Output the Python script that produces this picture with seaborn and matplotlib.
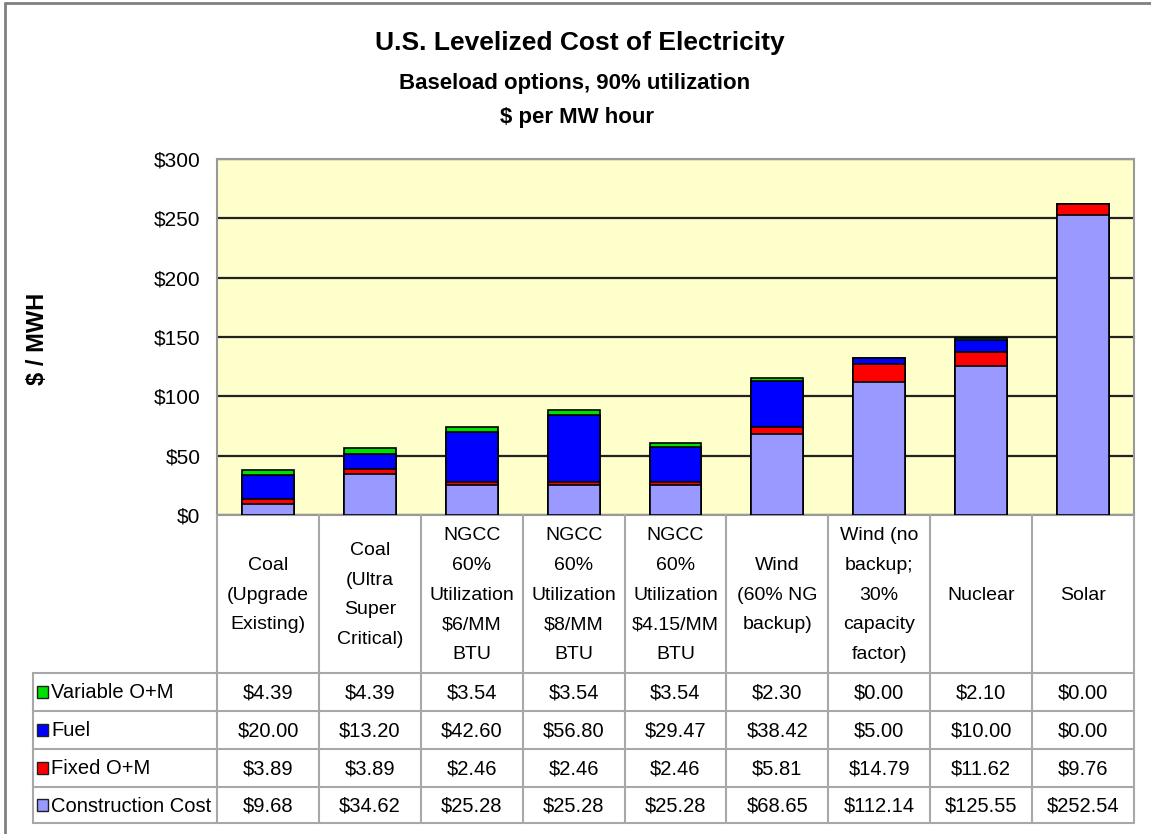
import numpy as np
import pandas as pd
import matplotlib
matplotlib.use("Agg")
import matplotlib.pyplot as plt
from matplotlib.lines import Line2D
from matplotlib.patches import Rectangle
import seaborn as sns

categories = ["Coal\n(Upgrade\nExisting)", "Coal\n(Ultra\nSuper\nCritical)",
              "NGCC\n60%\nUtilization\n$6/MM\nBTU", "NGCC\n60%\nUtilization\n$8/MM\nBTU",
              "NGCC\n60%\nUtilization\n$4.15/MM\nBTU", "Wind\n(60% NG\nbackup)",
              "Wind (no\nbackup;\n30%\ncapacity\nfactor)", "Nuclear", "Solar"]
construction = [9.68, 34.62, 25.28, 25.28, 25.28, 68.65, 112.14, 125.55, 252.54]
fixed_om = [3.89, 3.89, 2.46, 2.46, 2.46, 5.81, 14.79, 11.62, 9.76]
fuel = [20.00, 13.20, 42.60, 56.80, 29.47, 38.42, 5.00, 10.00, 0.00]
variable_om = [4.39, 4.39, 3.54, 3.54, 3.54, 2.30, 0.00, 2.10, 0.00]
series_names = ["Variable O+M", "Fuel", "Fixed O+M", "Construction Cost"]
y_ticks = [0, 50, 100, 150, 200, 250, 300]

colors = {"Variable O+M": "#00E000", "Fuel": "#0000FF",
          "Fixed O+M": "#FF0000", "Construction Cost": "#9999FF"}

sns.set_theme(style="white")
FONT = ["Liberation Sans", "DejaVu Sans"]
plt.rcParams["font.family"] = FONT
plt.rcParams["text.color"] = "black"
plt.rcParams["ytick.color"] = "black"
plt.rcParams["ytick.labelcolor"] = "black"

W, H = 1151, 834
fig = plt.figure(figsize=(W / 100, H / 100), dpi=100)

def fx(px):
    return px / W

def fy(py):
    return 1 - py / H

L, R, T, B = 217, 1134, 159, 515
ax = fig.add_axes([fx(L), fy(B), fx(R) - fx(L), fy(T) - fy(B)])
ax.set_facecolor("#FFFFCC")

df = pd.DataFrame({"cat": categories, "Construction Cost": construction,
                   "Fixed O+M": fixed_om, "Fuel": fuel, "Variable O+M": variable_om})
order_bottom_up = ["Construction Cost", "Fixed O+M", "Fuel", "Variable O+M"]
cum = df[order_bottom_up].cumsum(axis=1)

for s in reversed(order_bottom_up):
    sns.barplot(x=df["cat"], y=cum[s], color=colors[s], width=0.51,
                edgecolor="black", linewidth=1.2, saturation=1, ax=ax, zorder=3)

ax.set_ylim(0, 300)
ax.set_xlim(-0.5, len(categories) - 0.5)
ax.set_yticks(y_ticks)
ax.set_yticklabels([f"${v}" for v in y_ticks], fontsize=15, family=FONT, color="black")
ax.tick_params(axis="y", length=0, pad=12)
ax.set_xticks([])
ax.set_xlabel("")
ax.set_ylabel("")
ax.yaxis.grid(True, color="#222222", linewidth=1.6, zorder=1)
ax.set_axisbelow(True)
for sp in ax.spines.values():
    sp.set_color("#999999")
    sp.set_linewidth(1.5)

# y label
fig.text(fx(37), fy(339), "$ / MWH", rotation=90, ha="center", va="center",
         fontsize=17, fontweight="bold", family=FONT, color="black")

# titles
fig.text(fx(580), fy(43), "U.S. Levelized Cost of Electricity", ha="center", va="center",
         fontsize=19, fontweight="bold", family=FONT, color="black")
fig.text(fx(575), fy(83), "Baseload options, 90% utilization", ha="center", va="center",
         fontsize=16, fontweight="bold", family=FONT, color="black")
fig.text(fx(577), fy(118), "$ per MW hour", ha="center", va="center",
         fontsize=16, fontweight="bold", family=FONT, color="black")

# data table
tab = fig.add_axes([0, 0, 1, 1], zorder=5)
tab.set_xlim(0, W)
tab.set_ylim(H, 0)
tab.axis("off")
gc = "#A8A8A8"
colw = (R - L) / len(categories)
row_edges = [673, 711, 749, 787, 823]
TL = 33
for yv in row_edges:
    tab.add_line(Line2D([TL, R], [yv, yv], color=gc, lw=1.5))
tab.add_line(Line2D([TL, TL], [row_edges[0], row_edges[-1]], color=gc, lw=1.5))
for i in range(len(categories) + 1):
    xv = L + i * colw
    tab.add_line(Line2D([xv, xv], [B, row_edges[-1]], color=gc, lw=1.5))

for i, c in enumerate(categories):
    tab.text(L + (i + 0.5) * colw, (B + row_edges[0]) / 2 + 1, c, ha="center", va="center",
             fontsize=14, linespacing=1.97, family=FONT, color="black")

rows = {"Variable O+M": variable_om, "Fuel": fuel,
        "Fixed O+M": fixed_om, "Construction Cost": construction}
for r, name in enumerate(series_names):
    yc = (row_edges[r] + row_edges[r + 1]) / 2
    tab.add_patch(Rectangle((37, yc - 6), 11, 12, facecolor=colors[name],
                            edgecolor="#202020", lw=1))
    tab.text(51, yc + 1, name, ha="left", va="center", fontsize=14.5, family=FONT, color="black")
    for i, v in enumerate(rows[name]):
        tab.text(L + (i + 0.5) * colw, yc + 1, f"${v:.2f}", ha="center", va="center",
                 fontsize=14.5, family=FONT, color="black")

# figure border
tab.add_line(Line2D([5, 5], [3, H], color="#808080", lw=2))
tab.add_line(Line2D([5, W], [3, 3], color="#808080", lw=2))

fig.savefig("out.png", dpi=100)
